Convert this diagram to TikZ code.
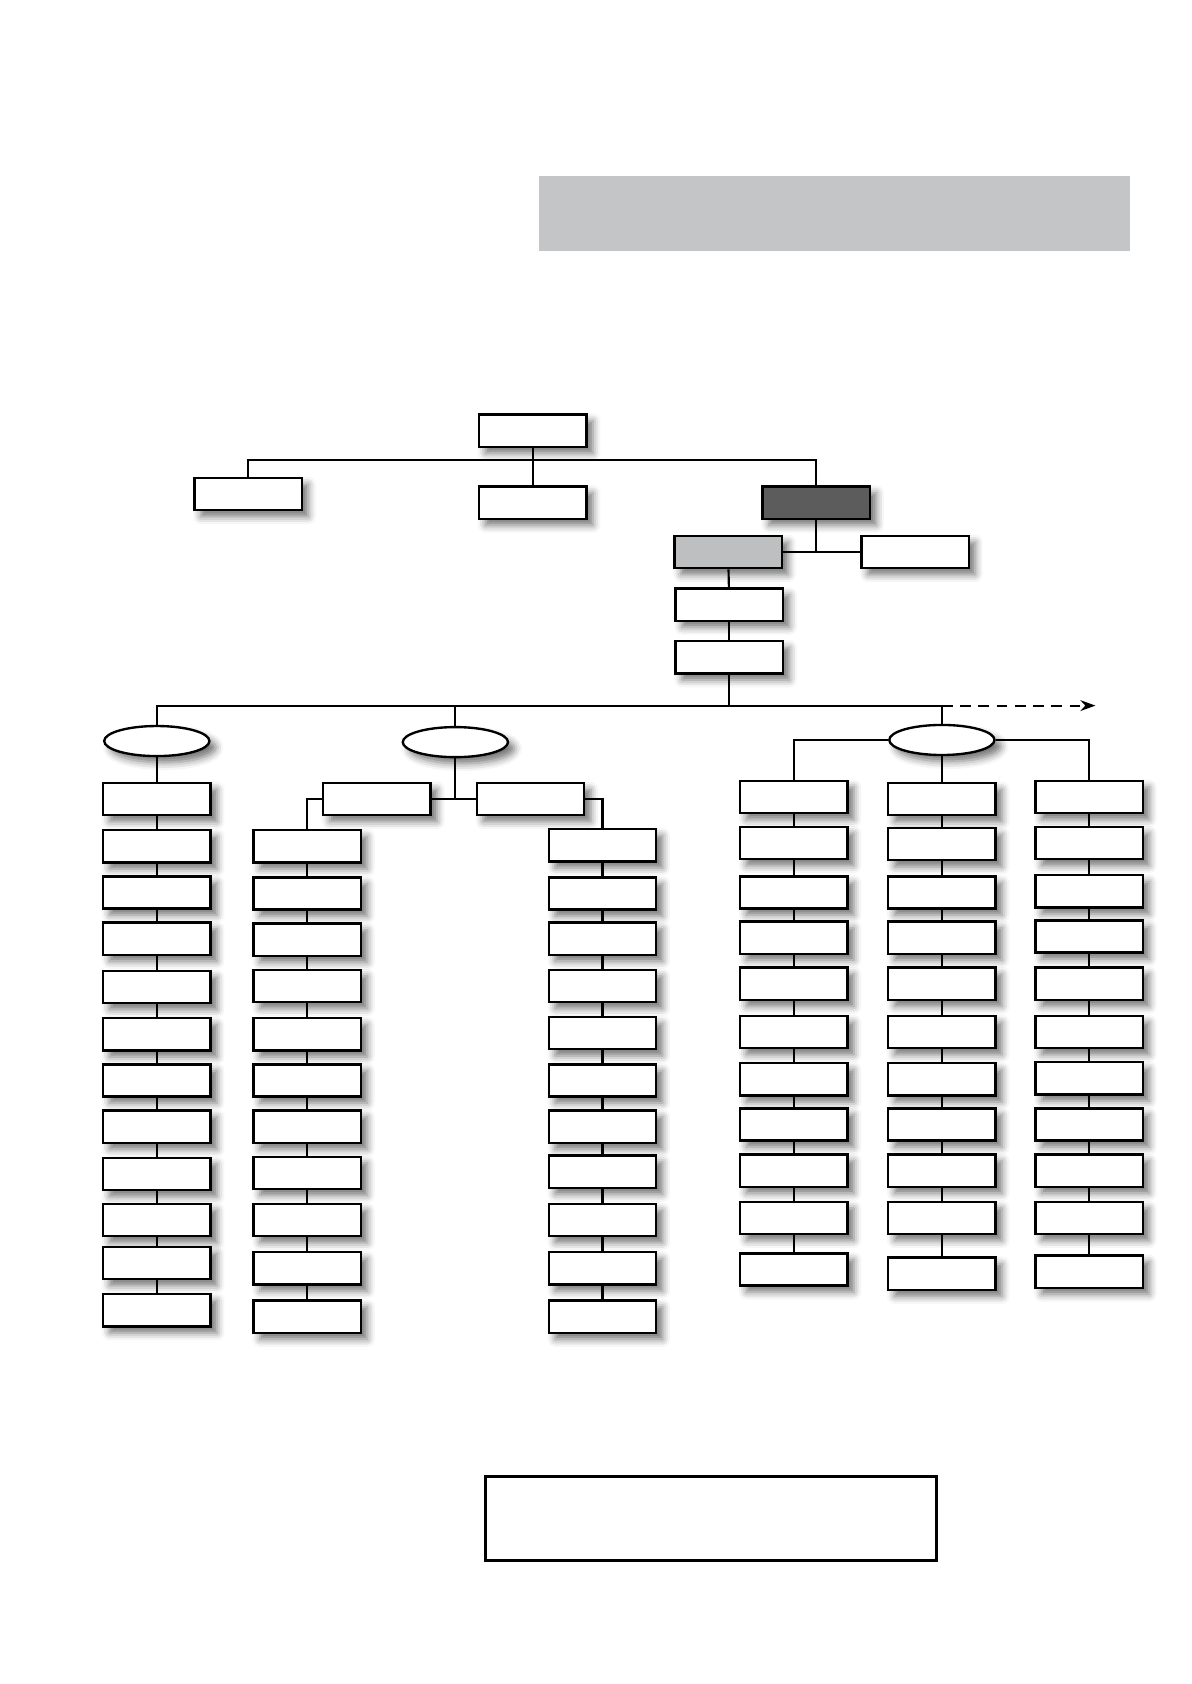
\documentclass[tikz,border=0pt]{standalone}
\usetikzlibrary{shapes.geometric,shadows.blur,arrows.meta}
\definecolor{bannergray}{HTML}{C4C5C7}
\definecolor{headdark}{HTML}{5C5C5C}
\definecolor{headlight}{HTML}{BEBFC1}
\tikzset{
  unitbox/.style={draw, line width=1.1pt, fill=white, minimum width=50pt,
    minimum height=15pt, inner sep=0pt,
    blur shadow={shadow xshift=3pt, shadow yshift=-3pt,
      shadow blur radius=3.5pt, shadow opacity=55}},
  unitoval/.style={unitbox, ellipse, minimum width=49pt, minimum height=14pt},
  link/.style={line width=1pt},
}
\begin{document}
\begin{tikzpicture}[x=0.5pt, y=-0.5pt]
  \useasboundingbox (0,0) rectangle (1109,1568);

  % === 顶部灰色标题条 ===
  \fill[bannergray] (502,164) rectangle (1052,234);

  % === 上层框 ===
  \node[unitbox] (root) at (496,401) {};
  \node[unitbox] (left) at (231,460) {};
  \node[unitbox] (mid) at (496,468) {};
  \node[unitbox, fill=headdark] (dark) at (760,468) {};
  \node[unitbox, fill=headlight] (light) at (678,514) {};
  \node[unitbox] (side) at (852,514) {};
  \node[unitbox] (stepA) at (679,563) {};
  \node[unitbox] (stepB) at (679,612) {};

  % 上层连线
  \coordinate (bus1) at (496,428);
  \draw[link] (root) -- (bus1) -- (mid);
  \draw[link] (left.north) |- (bus1) -| (dark.north);
  \draw[link] (light.east) -- (side.west);
  \draw[link] (dark.south) -- (dark.south |- light.east);
  \draw[link] (light) -- (stepA);
  \draw[link] (stepA) -- (stepB);

  % === 三个椭圆 ===
  \node[unitoval] (ovA) at (146,690) {};
  \node[unitoval] (ovB) at (424,691) {};
  \node[unitoval] (ovC) at (877,689) {};

  % 主横线 + 虚线箭头
  \coordinate (bus2) at (679,657);
  \coordinate (busend) at (877,657);
  \coordinate (more) at (1020,657);
  \draw[link] (stepB) -- (bus2);
  \draw[link] (ovA.north) |- (busend) -- (ovC.north);
  \draw[link] (ovB.north) -- (ovB.north |- bus2);
  \draw[link, dash pattern=on 5pt off 3.5pt, -{Stealth[length=7pt, width=5pt]}]
    (busend) -- (more);

  % === 第 1 列（12 个框）===
  \foreach \y [count=\i] in {744,788,831,874,919,963,1006,1049,1093,1136,1176,1220} {
    \node[unitbox] (a\i) at (146,\y) {};
  }
  \draw[link] (ovA) -- (a1);
  \foreach \i [remember=\i as \j (initially 1)] in {2,...,12} {
    \draw[link] (a\j) -- (a\i);
  }

  % === 中间椭圆下的两个框 ===
  \node[unitbox] (subL) at (351,744) {};
  \node[unitbox] (subR) at (494,744) {};
  \draw[link] (subL.east) -- (subR.west);
  \draw[link] (ovB.south) -- (ovB.south |- subL.east);

  % === 第 2、3 列（各 11 个框）===
  \foreach \y [count=\i] in {788,832,875,918,963,1006,1049,1092,1136,1181,1226} {
    \node[unitbox] (b\i) at (286,\y) {};
  }
  \foreach \y [count=\i] in {787,832,874,918,962,1006,1049,1091,1136,1181,1226} {
    \node[unitbox] (c\i) at (561,\y) {};
  }
  \draw[link] (subL.west) -| (b1.north);
  \draw[link] (subR.east) -| (c1.north);
  \foreach \i [remember=\i as \j (initially 1)] in {2,...,11} {
    \draw[link] (b\j) -- (b\i);
    \draw[link] (c\j) -- (c\i);
  }

  % === 第 4、5、6 列（各 11 个框）===
  \foreach \y [count=\i] in {742,785,831,873,916,961,1005,1047,1090,1134,1182} {
    \node[unitbox] (d\i) at (739,\y) {};
  }
  \foreach \y [count=\i] in {744,786,831,873,916,961,1005,1047,1090,1134,1186} {
    \node[unitbox] (e\i) at (877,\y) {};
  }
  \foreach \y [count=\i] in {742,785,830,872,916,961,1004,1047,1090,1134,1184} {
    \node[unitbox] (f\i) at (1014,\y) {};
  }
  \draw[link] (ovC.west) -| (d1.north);
  \draw[link] (ovC.east) -| (f1.north);
  \draw[link] (ovC) -- (e1);
  \foreach \i [remember=\i as \j (initially 1)] in {2,...,11} {
    \draw[link] (d\j) -- (d\i);
    \draw[link] (e\j) -- (e\i);
    \draw[link] (f\j) -- (f\i);
  }

  % === 底部说明框 ===
  \node[draw, line width=1.2pt, minimum width=210pt, minimum height=39pt,
    inner sep=0pt] (note) at (662,1414) {};
\end{tikzpicture}
\end{document}
